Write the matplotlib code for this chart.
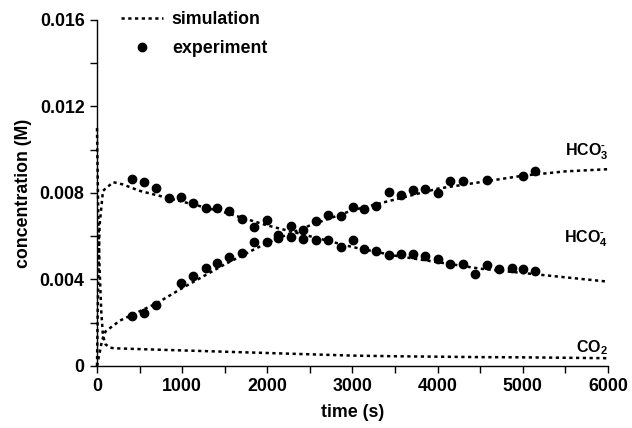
import numpy as np
import matplotlib
matplotlib.use("Agg")
import matplotlib.pyplot as plt
from matplotlib.ticker import MultipleLocator, FixedLocator, FixedFormatter
from matplotlib.lines import Line2D

plt.rcParams['font.family'] = ['Liberation Sans', 'DejaVu Sans']
plt.rcParams['font.weight'] = 'bold'
plt.rcParams['mathtext.fontset'] = 'custom'
plt.rcParams['mathtext.rm'] = 'Liberation Sans:bold'
plt.rcParams['mathtext.bf'] = 'Liberation Sans:bold'
plt.rcParams['mathtext.it'] = 'Liberation Sans:bold'

# measured concentrations (M)
t_hco4_exp = [407, 552, 696, 842, 983, 1131, 1276, 1405, 1553, 1699, 1840, 1993, 2129,
              2278, 2422, 2568, 2709, 2861, 3002, 3135, 3276, 3425, 3569, 3710, 3855,
              4004, 4145, 4294, 4438, 4579, 4724, 4873, 5005, 5146]
c_hco4_exp = [0.00865, 0.00851, 0.00825, 0.00779, 0.00783, 0.00752, 0.00731, 0.00731,
              0.00715, 0.00680, 0.00643, 0.00674, 0.00607, 0.00597, 0.00586, 0.00581,
              0.00581, 0.00550, 0.00582, 0.00540, 0.00533, 0.00515, 0.00519, 0.00519,
              0.00509, 0.00493, 0.00473, 0.00473, 0.00425, 0.00468, 0.00447, 0.00453,
              0.00447, 0.00441]

t_hco3_exp = [407, 552, 696, 983, 1131, 1276, 1405, 1553, 1699, 1840, 1993, 2129, 2278,
              2422, 2568, 2709, 2861, 3002, 3135, 3276, 3425, 3569, 3710, 3855, 4004,
              4145, 4294, 4579, 5005, 5146]
c_hco3_exp = [0.00230, 0.00245, 0.00282, 0.00384, 0.00416, 0.00453, 0.00475, 0.00504,
              0.00523, 0.00575, 0.00575, 0.00593, 0.00647, 0.00628, 0.00669, 0.00697,
              0.00692, 0.00737, 0.00727, 0.00741, 0.00805, 0.00789, 0.00814, 0.00820,
              0.00799, 0.00854, 0.00854, 0.00860, 0.00880, 0.00900]

# model curves
t_co2_sim = [0, 5, 15, 30, 50, 70, 100, 150, 200, 500, 1000, 1500, 2000, 2500, 3000,
             3500, 4000, 4500, 5000, 5500, 6000]
c_co2_sim = [0.0110, 0.0095, 0.0070, 0.0045, 0.0025, 0.0014, 0.0010, 0.00085, 0.00082,
             0.00078, 0.00072, 0.00066, 0.00060, 0.00054, 0.00048, 0.00045, 0.00043,
             0.00041, 0.00040, 0.00038, 0.00036]

t_hco4_sim = [0, 10, 30, 70, 190, 300, 500, 1000, 1500, 2000, 2500, 3000, 3500, 4000,
              4500, 5000, 5500, 6000]
c_hco4_sim = [0.0, 0.0030, 0.0065, 0.0081, 0.0085, 0.0084, 0.0081, 0.0076, 0.0071,
              0.0065, 0.0060, 0.0055, 0.0051, 0.0048, 0.0045, 0.0043, 0.0041, 0.0039]

t_hco3_sim = [0, 30, 60, 100, 270, 700, 1000, 1500, 2000, 2500, 3000, 3500, 4000, 4500,
              5000, 5500, 6000]
c_hco3_sim = [0.0, 0.0006, 0.0012, 0.0016, 0.0021, 0.0029, 0.0036, 0.0047, 0.0057,
              0.0065, 0.0072, 0.0077, 0.0082, 0.0085, 0.0088, 0.0090, 0.0091]

y_ticks = [0, 0.004, 0.008, 0.012, 0.016]
y_tick_labels = ['0', '0.004', '0.008', '0.012', '0.016']

fs = 12.8

fig = plt.figure(figsize=(6.32, 4.28), dpi=100)
ax = fig.add_axes([0.1535, 0.1449, 0.8085, 0.8084])

dots = (0, (1.3, 1.4))
for t, c in [(t_co2_sim, c_co2_sim), (t_hco4_sim, c_hco4_sim), (t_hco3_sim, c_hco3_sim)]:
    ax.plot(t, c, color='black', lw=1.8, linestyle=dots, clip_on=False)

ax.plot(t_hco4_exp, c_hco4_exp, 'o', color='black', ms=6, ls='none')
ax.plot(t_hco3_exp, c_hco3_exp, 'o', color='black', ms=6, ls='none')

ax.set_xlim(0, 6000)
ax.set_ylim(0, 0.016)
ax.xaxis.set_major_locator(MultipleLocator(1000))
ax.xaxis.set_minor_locator(MultipleLocator(500))
ax.yaxis.set_major_locator(FixedLocator(y_ticks))
ax.yaxis.set_major_formatter(FixedFormatter(y_tick_labels))
ax.yaxis.set_minor_locator(MultipleLocator(0.002))

for s in ['top', 'right']:
    ax.spines[s].set_visible(False)
for s in ['left', 'bottom']:
    ax.spines[s].set_linewidth(1.0)

ax.tick_params(which='both', direction='out', length=5, width=1, labelsize=fs, pad=4)

ax.set_xlabel('time (s)', fontsize=fs, fontweight='bold', labelpad=6)
ax.set_ylabel('concentration (M)', fontsize=fs, fontweight='bold')
ax.yaxis.set_label_coords(-0.128, 0.5)

ax.text(6000, 0.0099, r'$\mathbf{HCO_3^{\text{-}}}$', ha='right', va='center', fontsize=11.5)
ax.text(6000, 0.0059, r'$\mathbf{HCO_4^{\text{-}}}$', ha='right', va='center', fontsize=11.5)
ax.text(6000, 0.00083, r'$\mathbf{CO_2}$', ha='right', va='center', fontsize=11.5)

handles = [Line2D([], [], color='black', lw=1.8, linestyle=dots),
           Line2D([], [], color='black', marker='o', ms=6, ls='none')]
ax.legend(handles, ['simulation', 'experiment'], loc='upper left',
          bbox_to_anchor=(0.047, 1.025), frameon=False, fontsize=fs,
          borderpad=0, borderaxespad=0,
          handlelength=2.36, handletextpad=0.5, labelspacing=0.68)

fig.savefig('out.png', dpi=100)
